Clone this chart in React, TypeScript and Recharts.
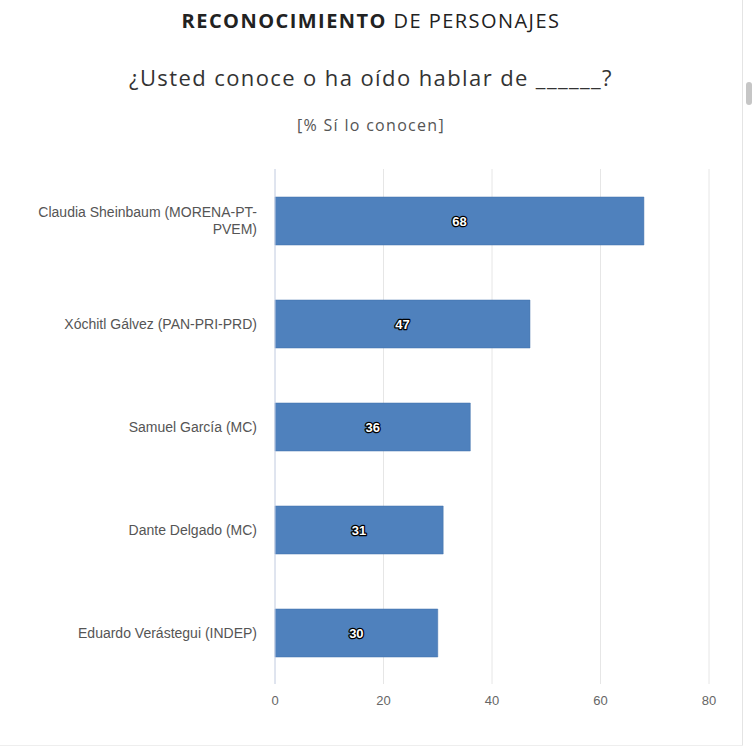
import { BarChart, Bar, XAxis, YAxis, CartesianGrid, LabelList } from "recharts"

const candidates = [
  "Claudia Sheinbaum (MORENA-PT-PVEM)",
  "Xóchitl Gálvez (PAN-PRI-PRD)",
  "Samuel García (MC)",
  "Dante Delgado (MC)",
  "Eduardo Verástegui (INDEP)",
]
const knownPct = [68, 47, 36, 31, 30]
const xTicks = [0, 20, 40, 60, 80]

const data = candidates.map((name, i) => ({ name, value: knownPct[i] }))

// break long labels at a hyphen, like the original wraps "MORENA-PT-\nPVEM)"
function splitLabel(s: string) {
  if (s.length <= 30) return [s]
  const cut = s.lastIndexOf("-", 30)
  return [s.slice(0, cut + 1), s.slice(cut + 1)]
}

const CategoryTick = (props: any) => {
  const { x, y, payload } = props
  const lines = splitLabel(payload.value)
  const lh = 17
  const start = y - ((lines.length - 1) * lh) / 2
  return (
    <text
      x={x}
      y={start}
      textAnchor="end"
      dominantBaseline="central"
      fill="#555"
      fontSize={14}
      fontFamily="'Liberation Sans', Arial, sans-serif"
    >
      {lines.map((l, i) => (
        <tspan key={i} x={x} y={start + i * lh}>
          {l}
        </tspan>
      ))}
    </text>
  )
}

export default function App() {
  return (
    <div style={{ position: "relative", width: 752, height: 749, background: "#fff", overflow: "hidden" }}>
      <style>{"body{margin:0}"}</style>
      <div
        style={{
          position: "absolute",
          top: 7,
          left: 0,
          width: 742,
          textAlign: "center",
          fontFamily: "'Open Sans', sans-serif",
          fontSize: 20,
          color: "#222",
          letterSpacing: 1.45,
        }}
      >
        <b>RECONOCIMIENTO</b> DE PERSONAJES
      </div>
      <div
        style={{
          position: "absolute",
          top: 62,
          left: 0,
          width: 742,
          textAlign: "center",
          fontFamily: "'Open Sans', sans-serif",
          fontSize: 22,
          color: "#333",
          letterSpacing: 1.4,
        }}
      >
        ¿Usted conoce o ha oído hablar de ______?
      </div>
      <div
        style={{
          position: "absolute",
          top: 114,
          left: 0,
          width: 742,
          textAlign: "center",
          fontFamily: "'Open Sans', sans-serif",
          fontSize: 16,
          color: "#555",
          letterSpacing: 1.3,
        }}
      >
        [% Sí lo conocen]
      </div>

      <div style={{ position: "absolute", top: 0, left: 0 }}>
        <BarChart
          width={752}
          height={749}
          data={data}
          layout="vertical"
          margin={{ top: 169, right: 43, left: 0, bottom: 35 }}
          barCategoryGap={55}
        >
          <CartesianGrid horizontal={false} stroke="#e6e6e6" />
          <XAxis
            type="number"
            domain={[0, 80]}
            ticks={xTicks}
            axisLine={false}
            tickLine={false}
            tickSize={0}
            tickMargin={12}
            height={30}
            tick={{ fill: "#666", fontSize: 13, fontFamily: "'Liberation Sans', Arial, sans-serif" }}
          />
          <YAxis
            type="category"
            dataKey="name"
            width={275}
            axisLine={{ stroke: "#ccd6eb" }}
            tickLine={false}
            tickSize={0}
            tickMargin={18}
            tick={<CategoryTick />}
            interval={0}
          />
          <Bar dataKey="value" fill="#4f81bd" stroke="#3f6fa8" strokeWidth={0.5} barSize={48} isAnimationActive={false}>
            <LabelList
              dataKey="value"
              position="center"
              fill="#fff"
              stroke="#000"
              strokeWidth={2.5}
              strokeLinejoin="round"
              paintOrder="stroke"
              fontSize={13}
              fontWeight="bold"
              fontFamily="'Liberation Sans', Arial, sans-serif"
            />
          </Bar>
        </BarChart>
      </div>

      {/* frame edge and scrollbar thumb on the right of the screenshot */}
      <div style={{ position: "absolute", left: 742, top: 0, width: 1, height: 745, background: "#e4e4e4" }} />
      <div style={{ position: "absolute", left: 0, top: 745, width: 743, height: 1, background: "#eee" }} />
      <div
        style={{
          position: "absolute",
          left: 746,
          top: 82,
          width: 6,
          height: 23,
          borderRadius: 3,
          background: "#c6c6c6",
        }}
      />
    </div>
  )
}
